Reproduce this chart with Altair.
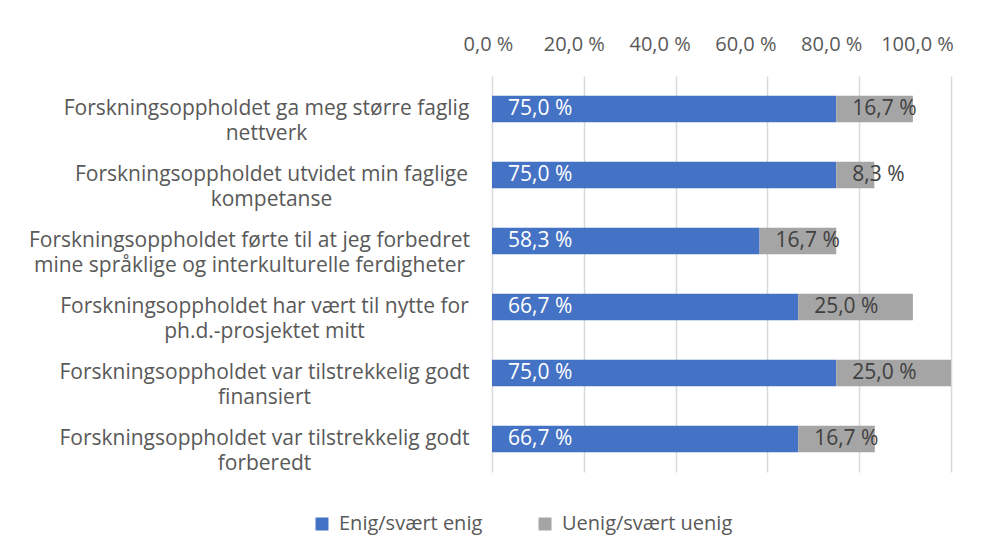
import altair as alt
import pandas as pd

categories = [
    "Forskningsoppholdet ga meg større faglig\nnettverk",
    "Forskningsoppholdet utvidet min faglige\nkompetanse",
    "Forskningsoppholdet førte til at jeg forbedret\nmine språklige og interkulturelle ferdigheter",
    "Forskningsoppholdet har vært til nytte for\nph.d.-prosjektet mitt",
    "Forskningsoppholdet var tilstrekkelig godt\nfinansiert",
    "Forskningsoppholdet var tilstrekkelig godt\nforberedt",
]
series = ["Enig/svært enig", "Uenig/svært uenig"]
enig = [75.0, 75.0, 58.3, 66.7, 75.0, 66.7]
uenig = [16.7, 8.3, 16.7, 25.0, 25.0, 16.7]
x_ticks = [0, 20, 40, 60, 80, 100]
colors = ["#4472C4", "#A5A5A5"]
label_colors = ["#FFFFFF", "#404040"]

rows = []
for i, c in enumerate(categories):
    rows.append({"cat": c, "series": series[0], "value": enig[i], "ord": 0})
    rows.append({"cat": c, "series": series[1], "value": uenig[i], "ord": 1})
df = pd.DataFrame(rows)

FONT = "Open Sans"
FS = 21

# label block centering (style): padding from plot edge to each label block centre
y_label_padding = {
    "condition": [
        {"test": "indexof(datum.value, 'nettverk') >= 0", "value": 226},
        {"test": "indexof(datum.value, 'kompetanse') >= 0", "value": 221},
        {"test": "indexof(datum.value, 'ferdigheter') >= 0", "value": 243},
    ],
    "value": 228,
}
# x tick label offsets (style)
x_label_offset = {
    "condition": [
        {"test": "datum.value == 20", "value": -10},
        {"test": "datum.value == 40", "value": -16},
        {"test": "datum.value == 60", "value": -22},
        {"test": "datum.value == 80", "value": -28},
        {"test": "datum.value == 100", "value": -34},
    ],
    "value": -4,
}

y_enc = alt.Y(
    "cat:N",
    sort=categories,
    title=None,
    scale=alt.Scale(paddingInner=0.6, paddingOuter=0.3),
    axis=alt.Axis(
        labelExpr="split(datum.label, '\\n')",
        labelAlign="center",
        labelBaseline="middle",
        labelLineHeight=25,
        labelPadding=y_label_padding,
        labelFontSize=FS,
        labelFont=FONT,
        labelColor="#595959",
        labelLimit=600,
        ticks=False,
        domain=False,
        grid=False,
        minExtent=479,
        maxExtent=479,
    ),
)

base = alt.Chart(df)

bars = base.mark_bar().encode(
    x=alt.X(
        "value:Q",
        stack="zero",
        title=None,
        scale=alt.Scale(domain=[0, 100], nice=False),
        axis=alt.Axis(
            orient="top",
            values=x_ticks,
            labelExpr="replace(format(datum.value, '.1f'), '.', ',') + ' %'",
            labelFontSize=20,
            labelFont=FONT,
            labelColor="#595959",
            labelPadding=22,
            labelOffset=x_label_offset,
            labelFlush=False,
            labelOverlap=False,
            ticks=False,
            domain=False,
            grid=True,
            gridColor="#D9D9D9",
            gridWidth=1.5,
            minExtent=63,
            maxExtent=63,
        ),
    ),
    y=y_enc,
    color=alt.Color(
        "series:N",
        scale=alt.Scale(domain=series, range=colors),
        legend=alt.Legend(
            title=None,
            orient="none",
            direction="horizontal",
            legendX=-180,
            legendY=438,
            symbolType="square",
            symbolSize=169,
            symbolStrokeWidth=0,
            labelFontSize=20,
            labelFont=FONT,
            labelColor="#595959",
            labelLimit=300,
            labelOffset=7,
            columnPadding=52,
            padding=0,
        ),
    ),
    order=alt.Order("ord:Q"),
)

texts = (
    base.transform_stack(
        stack="value", groupby=["cat"], as_=["v0", "v1"], sort=[alt.SortField("ord")]
    )
    .transform_calculate(
        lbl="replace(format(datum.value, '.1f'), '.', ',') + ' %'"
    )
    .mark_text(align="left", baseline="middle", dx=16, fontSize=FS, font=FONT)
    .encode(
        x=alt.X("v0:Q"),
        y=alt.Y("cat:N", sort=categories),
        text="lbl:N",
        color=alt.Color(
            "series:N",
            scale=alt.Scale(domain=series, range=label_colors),
            legend=None,
        ),
    )
)

chart = (
    alt.layer(bars, texts)
    .resolve_scale(color="independent")
    .properties(width=459, height=396, background="white")
    .configure_view(stroke=None)
)

chart.save("out.html", embed_options={"renderer": "svg", "actions": False})
